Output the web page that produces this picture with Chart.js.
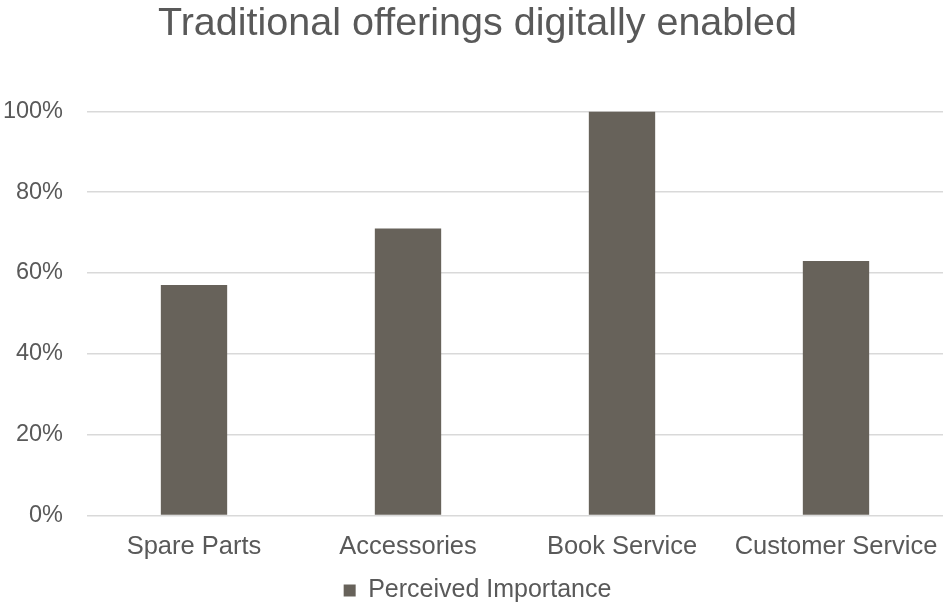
<!DOCTYPE html>
<html>
<head>
<meta charset="utf-8">
<title>Traditional offerings digitally enabled</title>
<script src="https://cdn.jsdelivr.net/npm/chart.js@4/dist/chart.umd.min.js"></script>
<style>
  html, body { margin: 0; padding: 0; background: #ffffff; }
  #chart { display: block; }
</style>
</head>
<body>
<canvas id="chart" width="943" height="603"></canvas>
<script>
// Chart data
const categories = ["Spare Parts", "Accessories", "Book Service", "Customer Service"];
const importance = [57, 71, 100, 63];
const seriesName = "Perceived Importance";

const textColor = "#595959";
const barColor = "#67625a";
const gridColor = "#d9d9d9";

Chart.defaults.font.family = "'Liberation Sans', Arial, sans-serif";
Chart.defaults.color = textColor;

const ctx = document.getElementById("chart").getContext("2d");

new Chart(ctx, {
  type: "bar",
  data: {
    labels: categories,
    datasets: [
      {
        label: seriesName,
        data: importance,
        backgroundColor: barColor,
        borderWidth: 0,
        categoryPercentage: 1,
        barPercentage: 0.31,
      },
    ],
  },
  options: {
    responsive: false,
    animation: false,
    layout: {
      // negative right padding nudges title and legend a little right of centre
      padding: { left: 0, right: -12, top: 0, bottom: -10 },
    },
    plugins: {
      title: {
        display: true,
        text: "Traditional offerings digitally enabled",
        color: textColor,
        font: { size: 39.5, weight: "normal" },
        padding: { top: 0, bottom: 64 },
      },
      legend: {
        display: true,
        position: "bottom",
        labels: {
          color: textColor,
          font: { size: 25 },
          boxWidth: 12,
          boxHeight: 12,
          padding: 0,
        },
      },
      tooltip: { enabled: false },
    },
    scales: {
      x: {
        grid: { display: false, drawTicks: false },
        border: { display: false },
        ticks: {
          color: textColor,
          font: { size: 25.5 },
          padding: 16,
          maxRotation: 0,
          autoSkip: false,
        },
        // let the plot run to the right edge; the last label still fits
        afterFit: function (scale) {
          scale.paddingLeft = 0;
          scale.paddingRight = 0;
        },
      },
      y: {
        min: 0,
        max: 100,
        grid: { color: gridColor, lineWidth: 1.5, drawTicks: false },
        border: { display: false },
        ticks: {
          stepSize: 20,
          color: textColor,
          font: { size: 23.5 },
          padding: 24,
          callback: function (value) {
            return value + "%";
          },
        },
        // fixed axis width so the plot starts where the labels leave off
        afterFit: function (scale) {
          scale.width = 87;
        },
      },
    },
  },
});
</script>
</body>
</html>
